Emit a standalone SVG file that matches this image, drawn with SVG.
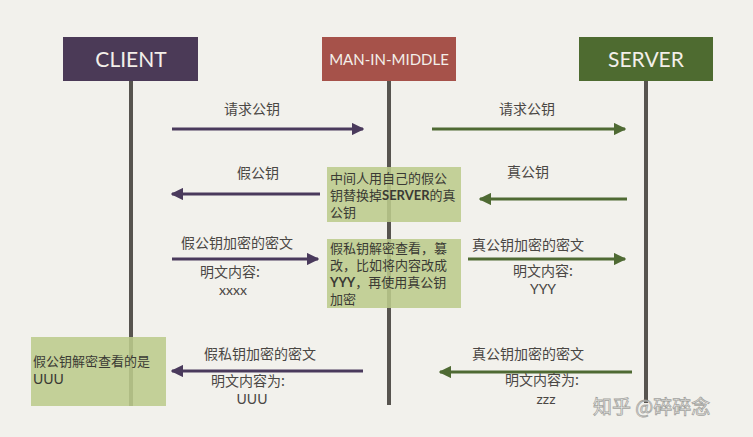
<svg xmlns="http://www.w3.org/2000/svg" width="753" height="437" viewBox="0 0 753 437">
<defs>
<style>
.hdr{font-family:Lato,"Open Sans","Liberation Sans",sans-serif;fill:#f3efe9;text-anchor:middle}
.lbl{font-family:"Noto Sans CJK SC","Noto Sans",sans-serif;font-size:14px;fill:#4a4744;text-anchor:middle}
.lat{font-family:Lato,"Open Sans","Liberation Sans",sans-serif;font-size:14px;fill:#4a4744;text-anchor:middle}
.note{font-family:"Noto Sans CJK SC","Noto Sans",sans-serif;font-size:13px;fill:#3a3a34}
.life{stroke:#57544f;stroke-width:4}
.noteBox{fill:#bccb8c;fill-opacity:0.88}
.p{stroke:#4a3a5c;stroke-width:3;fill:none}
.g{stroke:#4f6a33;stroke-width:3;fill:none}
</style>
<marker id="ap" viewBox="0 0 10 10" refX="9" refY="5" markerWidth="4.2" markerHeight="4.2" orient="auto" markerUnits="strokeWidth"><path d="M0,0 L10,5 L0,10 z" fill="#4a3a5c"/></marker>
<marker id="ag" viewBox="0 0 10 10" refX="9" refY="5" markerWidth="4.2" markerHeight="4.2" orient="auto" markerUnits="strokeWidth"><path d="M0,0 L10,5 L0,10 z" fill="#4f6a33"/></marker>
</defs>
<rect width="753" height="437" fill="#f2f1ec"/>

<g id="lifelines">
<line class="life" x1="131" y1="80" x2="131" y2="406"/>
<line class="life" x1="389" y1="80" x2="389" y2="405"/>
<line class="life" x1="646" y1="80" x2="646" y2="403"/>
</g>

<g id="client">
<rect x="63" y="37" width="135" height="44" fill="#4b3a57"/>
<text class="hdr" x="131" y="67" font-size="21">CLIENT</text>
</g>
<g id="mim">
<rect x="322" y="37" width="134" height="44" fill="#a6524a"/>
<text class="hdr" x="389" y="65" font-size="15">MAN-IN-MIDDLE</text>
</g>
<g id="server">
<rect x="579" y="37" width="134" height="44" fill="#4e6b30"/>
<text class="hdr" x="646" y="67" font-size="21">SERVER</text>
</g>

<g id="connectors">
<line class="p" x1="172" y1="129" x2="363" y2="129" marker-end="url(#ap)"/>
<line class="g" x1="432" y1="129" x2="625" y2="129" marker-end="url(#ag)"/>
<line class="g" x1="627" y1="199" x2="480" y2="199" marker-end="url(#ag)"/>
<line class="p" x1="320" y1="194" x2="172" y2="194" marker-end="url(#ap)"/>
<line class="p" x1="172" y1="259" x2="318" y2="259" marker-end="url(#ap)"/>
<line class="g" x1="468" y1="259" x2="625" y2="259" marker-end="url(#ag)"/>
<line class="p" x1="363" y1="371" x2="172" y2="371" marker-end="url(#ap)"/>
<line class="g" x1="632" y1="372" x2="440" y2="372" marker-end="url(#ag)"/>
</g>

<g id="labels">
<text class="lbl" x="252" y="114">请求公钥</text>
<text class="lbl" x="527" y="114">请求公钥</text>
<text class="lbl" x="528" y="177">真公钥</text>
<text class="lbl" x="258" y="178">假公钥</text>
<text class="lbl" x="237" y="248">假公钥加密的密文</text>
<text class="lbl" x="230" y="277">明文内容:</text>
<text class="lat" x="233" y="295">xxxx</text>
<text class="lbl" x="528" y="250">真公钥加密的密文</text>
<text class="lbl" x="543" y="276">明文内容:</text>
<text class="lat" x="543" y="294">YYY</text>
<text class="lbl" x="260" y="359">假私钥加密的密文</text>
<text class="lbl" x="248" y="386">明文内容为:</text>
<text class="lat" x="252" y="404">UUU</text>
<text class="lbl" x="528" y="359">真公钥加密的密文</text>
<text class="lbl" x="542" y="385">明文内容为:</text>
<text class="lat" x="546" y="404">zzz</text>
</g>

<g id="note-mim-1">
<rect class="noteBox" x="327" y="167" width="134" height="55"/>
<text class="note" x="330" y="183">中间人用自己的假公</text>
<text class="note" x="330" y="200">钥替换掉<tspan font-family="Lato,'Open Sans',sans-serif" font-weight="bold">SERVER</tspan>的真</text>
<text class="note" x="330" y="217">公钥</text>
</g>
<g id="note-mim-2">
<rect class="noteBox" x="327" y="239" width="134" height="69"/>
<text class="note" x="330" y="253">假私钥解密查看，篡</text>
<text class="note" x="330" y="270">改，比如将内容改成</text>
<text class="note" x="330" y="287"><tspan font-family="Lato,'Open Sans',sans-serif" font-weight="bold">YYY</tspan>，再使用真公钥</text>
<text class="note" x="330" y="304">加密</text>
</g>
<g id="note-client">
<rect class="noteBox" x="31" y="337" width="135" height="69"/>
<text class="note" x="33" y="366">假公钥解密查看的是</text>
<text class="note" x="33" y="384"><tspan font-family="Lato,'Open Sans',sans-serif" font-size="14">UUU</tspan></text>
</g>

<text x="593" y="414" font-family="'Noto Sans CJK SC',sans-serif" font-size="19" fill="#ffffff" stroke="#9a9a96" stroke-width="0.8" opacity="0.9">知乎 @碎碎念</text>
</svg>
